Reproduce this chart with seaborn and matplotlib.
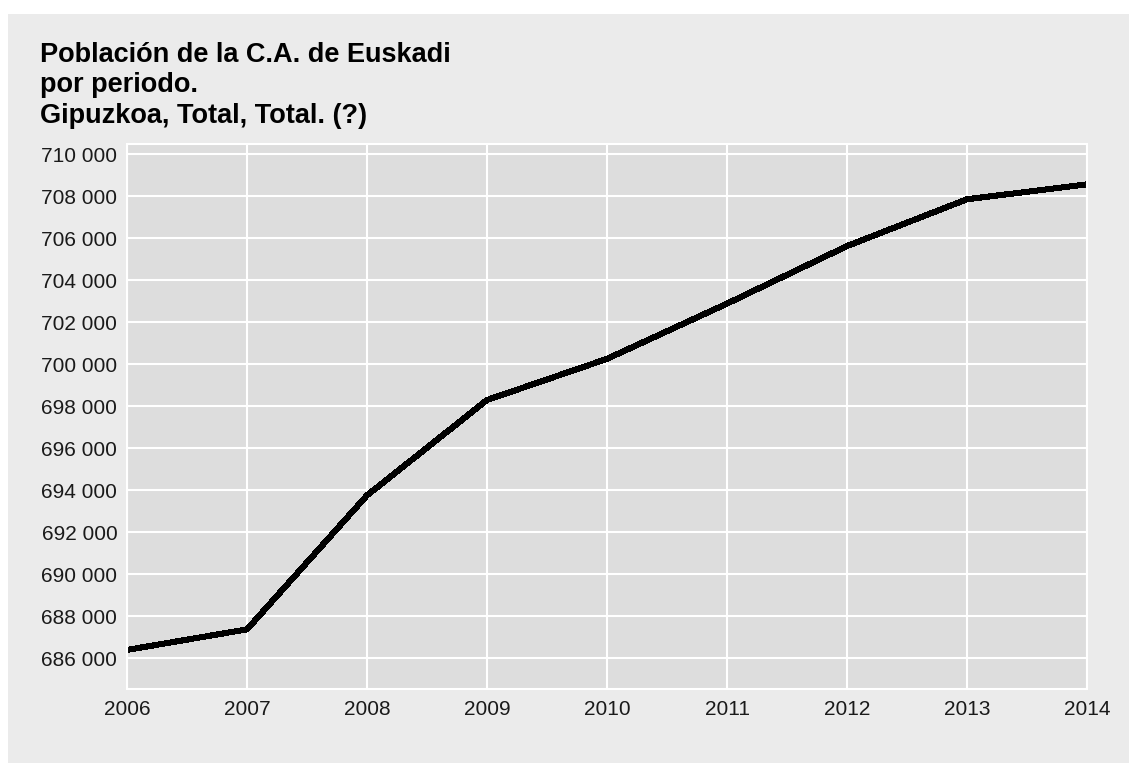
import pandas as pd
import matplotlib
matplotlib.use("Agg")
import matplotlib.pyplot as plt
import matplotlib.ticker as mticker
from matplotlib.patches import Rectangle
import seaborn as sns

# datos
years = [2006, 2007, 2008, 2009, 2010, 2011, 2012, 2013, 2014]
population = [686390, 687370, 693750, 698290, 700250, 702880, 705620, 707850, 708560]
y_ticks = list(range(686000, 710001, 2000))
title = "Población de la C.A. de Euskadi\npor periodo.\nGipuzkoa, Total, Total. (?)"

df = pd.DataFrame({"periodo": years, "poblacion": population})

sns.set_style("darkgrid", {
    "axes.facecolor": "#dddddd",
    "grid.color": "white",
    "axes.edgecolor": "white",
})
plt.rcParams["font.family"] = ["Liberation Sans", "DejaVu Sans"]

fig = plt.figure(figsize=(11.29, 7.63), dpi=100, facecolor="white")
# fondo gris con borde blanco arriba e izquierda
fig.patches.append(Rectangle((8 / 1129, 0), 1, 1 - 14 / 763, transform=fig.transFigure,
                             facecolor="#ebebeb", edgecolor="none", zorder=-10))

ax = fig.add_axes([127 / 1129, 74 / 763, 960 / 1129, 545 / 763])
sns.lineplot(data=df, x="periodo", y="poblacion", color="black", linewidth=3.6,
             antialiased=False, ax=ax)

ax.set_xlim(2006, 2014)
ax.set_ylim(684530, 710480)
ax.set_xticks(years)
ax.set_yticks(y_ticks)
ax.yaxis.set_major_formatter(mticker.FuncFormatter(lambda v, p: f"{int(v):,}".replace(",", " ")))
ax.grid(True, color="white", linewidth=1.5)
for s in ax.spines.values():
    s.set_color("white")
    s.set_linewidth(1.5)
ax.tick_params(axis="both", length=0, labelsize=15, labelcolor="#1a1a1a")
ax.tick_params(axis="y", pad=7)
ax.tick_params(axis="x", pad=8)
ax.set_xlabel("")
ax.set_ylabel("")

fig.text(40 / 1129, 1 - 42 / 763, title, ha="left", va="top", fontsize=19.5,
         fontweight="bold", color="black", linespacing=1.22)

fig.savefig("out.png", dpi=100, facecolor=fig.get_facecolor())
